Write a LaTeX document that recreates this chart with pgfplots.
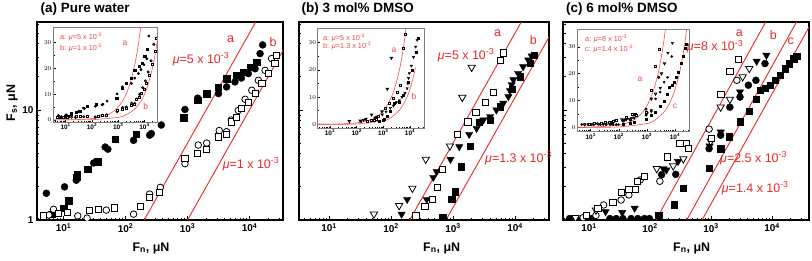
\documentclass[border=0pt]{standalone}
\usepackage{fontspec}
\setmainfont{Liberation Sans}
\usepackage{pgfplots}
\pgfplotsset{compat=1.18}
\usepackage{pgfplotstable}
\definecolor{myred}{RGB}{232,40,40}

% ---------- panel (a) ----------
\pgfplotstableread{
x y
5.3 1.75
10.4 2.0
16.1 2.3
30.7 3.3
47 4.6
52 4.4
135 5.3
245 5.9
261 6.1
378 7.3
910 10.1
1460 12.8
3160 14.1
4270 16.2
5830 18
7400 19.5
9550 21.4
12300 23.7
14800 32.5
16300 39
}\tabAfc
\pgfplotstableread{
x y
6.5 1.13
7.9 1.15
10.1 1.28
12.1 1.5
16.5 2.6
16.3 2.45
24.5 2.9
35.5 3.4
68 5.4
149 6.0
870 8.5
1460 12.2
2040 14.1
3160 16.2
4270 19.3
6200 20.7
7940 22.1
10200 24.6
13100 27.3
}\tabAfs
\pgfplotstableread{
x y
5.8 1.11
6.9 1.25
17 1.09
24 1.04
49 1.23
135 1.13
245 1.72
364 1.98
910 3.25
1490 4.8
2040 5.0
3250 6.5
4270 6.35
5100 8.1
6600 9.9
8500 12.5
10900 15.1
13900 18.6
17800 22.9
22700 29.3
}\tabAoc
\pgfplotstableread{
x y
4.8 1.09
8.4 1.15
11.4 1.17
26 1.23
37 1.25
67 1.29
174 1.34
245 1.61
355 1.77
910 3.6
1460 4.0
2040 4.4
3160 5.7
4270 6.0
5100 7.8
6200 8.6
7400 10.3
9550 11.8
12300 14.1
15800 17.3
20000 21.4
25700 26.4
27500 31.4
}\tabAos

% ---------- panel (b) ----------
\pgfplotstableread{
x y
53 1.13
135 1.35
221 1.94
363 3.56
890 4.7
1410 13.0
2000 24.4
}\tabBot
\pgfplotstableread{
x y
148 1.13
182 1.54
376 1.54
480 2.44
545 2.75
910 3.56
1260 4.64
1820 6.0
2400 6.8
3080 8.1
3970 8.7
5000 10
6460 11.5
7800 13.2
8300 15
8800 17
9400 18.8
11200 21.5
13500 24.7
16300 28.5
18500 31
}\tabBft
\pgfplotstableread{
x y
680 1.06
950 1.54
1080 1.81
1340 3.05
1880 4.7
2630 7.7
3970 8.1
5750 10.7
8900 15.4
12100 20
17400 26.5
20400 31.6
}\tabBfs
\pgfplotstableread{
x y
252 1.09
352 1.32
466 1.55
567 1.97
680 2.89
1190 6.0
1740 7.8
2340 9.5
3320 11.7
4490 14.4
5750 28
6460 33
}\tabBos

% ---------- panel (c) ----------
\pgfplotstableread{
x y
4.8 1.03
6.2 1.03
11 1.03
22 1.03
28 1.03
36 1.03
49 1.03
63 1.03
81 1.03
98 1.03
155 2.58
264 2.6
930 4.45
1440 5.9
2040 10.6
2990 13.1
4100 16.8
5450 18.6
7670 26.4
}\tabCfc
\pgfplotstableread{
x y
18.7 1.19
35 1.17
56 1.28
166 2.93
186 2.85
288 3.4
950 4.7
1440 6.3
2990 14.6
5600 27.7
8100 31.4
}\tabCft
\pgfplotstableread{
x y
8 1.05
13 1.1
17.4 1.37
33.6 1.52
45 1.69
69 2.31
145 2.25
930 6.7
2650 18.6
}\tabCoc
\pgfplotstableread{
x y
6 1.05
13 1.23
129 2.93
240 3.1
352 3.6
990 5.2
1440 10.6
2040 12.5
3300 20
4240 23.8
}\tabCot
\pgfplotstableread{
x y
9 1.11
14 1.28
24.6 1.44
33.6 1.77
45 1.9
58 1.9
63 2.23
82 2.48
191 3.74
308 4.98
390 4.94
425 4.5
1000 5.5
1450 13.8
2040 22.5
2800 28.9
}\tabCos
\pgfplotstableread{
x y
139 1.11
247 1.38
352 1.95
930 2.97
1450 4.45
2000 5.7
2990 7.8
4200 9.7
5450 12.5
6350 15.1
7670 15.8
9300 16.8
11200 18.6
13500 20.7
16300 23.8
19100 26.4
22800 29.3
25300 30.8
}\tabCfs

\pgfplotsset{
 fcirc/.style={only marks, mark=*, mark size=#1, mark options={draw=black, fill=black}},
 fcirc/.default=3.5bp,
 fsq/.style={only marks, mark=square*, mark size=#1, mark options={draw=black, fill=black}},
 fsq/.default=3.2bp,
 ocirc/.style={only marks, mark=*, mark size=#1, mark options={draw=black, fill=white, line width=0.8bp}},
 ocirc/.default=3.3bp,
 osq/.style={only marks, mark=square*, mark size=#1, mark options={draw=black, fill=white, line width=0.8bp}},
 osq/.default=3.1bp,
 ftri/.style={only marks, mark=triangle*, mark size=#1, mark options={rotate=180, draw=black, fill=black}},
 ftri/.default=4.2bp,
 otri/.style={only marks, mark=triangle*, mark size=#1, mark options={rotate=180, draw=black, fill=white, line width=0.8bp}},
 otri/.default=4.2bp,
}
\pgfplotsset{
 mainax/.style={scale only axis, height=198bp,
   ymin=1, ymax=63,
   axis line style={line width=1.3bp}, tick align=inside,
   xtick pos=bottom, ytick pos=left,
   xtick={10,100,1000,10000},
   xticklabels={10\textsuperscript{1},10\textsuperscript{2},10\textsuperscript{3},10\textsuperscript{4}},
   minor xtick={4,5,6,7,8,9,20,30,40,50,60,70,80,90,200,300,400,500,600,700,800,900,2000,3000,4000,5000,6000,7000,8000,9000,20000,30000,40000},
   ytick={1,10}, minor ytick={2,3,4,5,6,7,8,9,20,30,40,50,60},
   major tick length=4bp, minor tick length=2.5bp,
   tick style={black, line width=0.8bp},
   ticklabel style={font=\bfseries\fontsize{10}{10}\selectfont},
   clip marker paths=true},
 insetax/.style={scale only axis,
   axis background/.style={fill=white},
   axis line style={gray, line width=0.8bp}, tick align=inside,
   xtick pos=bottom, ytick pos=left,
   xtick={10,100,1000,10000},
   xticklabels={10\textsuperscript{1},10\textsuperscript{2},10\textsuperscript{3},10\textsuperscript{4}},
   minor xtick={4,5,6,7,8,9,20,30,40,50,60,70,80,90,200,300,400,500,600,700,800,900,2000,3000,4000,5000,6000,7000,8000,9000,20000,30000},
   ytick={0,10,20,30}, minor y tick num=1,
   major tick length=2.5bp, minor tick length=1.5bp,
   tick style={black, line width=0.5bp},
   ticklabel style={font=\bfseries\fontsize{6.5}{6.5}\selectfont, inner sep=1.5pt},
   clip marker paths=true},
}

\begin{document}
\begin{tikzpicture}
\useasboundingbox (0,0) rectangle (812bp,-261bp);

% ================= panel (a) =================
\begin{loglogaxis}[mainax, anchor=north west, at={(37bp,-22bp)}, width=246bp, xmin=3.74, xmax=34700, yticklabels={1,10}]
\addplot[myred, line width=0.9bp] coordinates {(200,1) (12600,63)};
\addplot[myred, line width=0.9bp] coordinates {(1000,1) (63000,63)};
\addplot[fcirc] table {\tabAfc};
\addplot[fsq] table {\tabAfs};
\addplot[ocirc] table {\tabAoc};
\addplot[osq] table {\tabAos};
\end{loglogaxis}
\begin{semilogxaxis}[insetax, anchor=north west, at={(53bp,-27bp)}, width=104bp, height=95bp,
  xmin=3.3, xmax=30000, ymin=-0.8, ymax=36]
\addplot[myred!80, line width=0.6bp, smooth] coordinates {(3.3,0.0165) (10,0.05) (30,0.15) (100,0.5) (200,1) (400,2) (700,3.5) (1000,5) (1500,7.5) (2000,10) (2500,12.5) (3000,15) (3500,17.5) (4000,20) (4500,22.5) (5000,25) (5500,27.5) (6000,30) (6500,32.5) (7000,35) (7500,37.5)};
\addplot[myred!80, line width=0.6bp, smooth] coordinates {(3.3,0.0033) (10,0.01) (100,0.1) (1000,1) (2000,2) (4000,4) (6000,6) (8000,8) (10000,10) (13000,13) (16000,16) (20000,20) (25000,25) (30000,30)};
\addplot[fcirc=1.2bp] table {\tabAfc};
\addplot[fsq=1.1bp] table {\tabAfs};
\addplot[ocirc=1.1bp] table {\tabAoc};
\addplot[osq=1.0bp] table {\tabAos};
\end{semilogxaxis}

% ================= panel (b) =================
\begin{loglogaxis}[mainax, anchor=north west, at={(299bp,-22bp)}, width=250bp, xmin=3.28, xmax=35300, yticklabels={}]
\addplot[myred, line width=0.9bp] coordinates {(200,1) (12600,63)};
\addplot[myred, line width=0.9bp] coordinates {(769,1) (48460,63)};
\addplot[otri] table {\tabBot};
\addplot[ftri] table {\tabBft};
\addplot[fsq] table {\tabBfs};
\addplot[osq] table {\tabBos};
\end{loglogaxis}
\begin{semilogxaxis}[insetax, anchor=north west, at={(317.7bp,-28.3bp)}, width=106.3bp, height=99.7bp,
  xmin=3.46, xmax=33400, ymin=-1.36, ymax=35.3]
\addplot[myred!80, line width=0.6bp, smooth] coordinates {(3.46,0.0173) (10,0.05) (30,0.15) (100,0.5) (200,1) (400,2) (700,3.5) (1000,5) (1500,7.5) (2000,10) (2500,12.5) (3000,15) (3500,17.5) (4000,20) (4500,22.5) (5000,25) (5500,27.5) (6000,30) (6500,32.5) (7000,35) (7500,37.5)};
\addplot[myred!80, line width=0.6bp, smooth] coordinates {(3.46,0.0045) (10,0.013) (100,0.13) (1000,1.3) (2000,2.6) (4000,5.2) (6000,7.8) (8000,10.4) (10000,13) (12000,15.6) (14000,18.2) (16000,20.8)};
\addplot[otri=1.4bp] table {\tabBot};
\addplot[ftri=1.4bp] table {\tabBft};
\addplot[fsq=1.0bp] table {\tabBfs};
\addplot[osq=1.0bp] table {\tabBos};
\end{semilogxaxis}

% ================= panel (c) =================
\begin{loglogaxis}[mainax, anchor=north west, at={(563bp,-22bp)}, width=246bp, xmin=3.75, xmax=40400, yticklabels={}]
\addplot[myred, line width=0.9bp] coordinates {(125,1) (7875,63)};
\addplot[myred, line width=0.9bp] coordinates {(400,1) (25200,63)};
\addplot[myred, line width=0.9bp] coordinates {(714,1) (45000,63)};
\addplot[fcirc] table {\tabCfc};
\addplot[ftri] table {\tabCft};
\addplot[ocirc] table {\tabCoc};
\addplot[otri] table {\tabCot};
\addplot[osq] table {\tabCos};
\addplot[fsq] table {\tabCfs};
\end{loglogaxis}
\begin{semilogxaxis}[insetax, anchor=north west, at={(577.3bp,-29.3bp)}, width=111.7bp, height=102.4bp,
  xmin=3.34, xmax=31600, ymin=-1.64, ymax=36.5]
\addplot[myred!80, line width=0.6bp, smooth] coordinates {(3.34,0.027) (10,0.08) (100,0.8) (300,2.4) (600,4.8) (1000,8) (1500,12) (2000,16) (2500,20) (3000,24) (3500,28) (4000,32) (4500,36) (5000,40)};
\addplot[myred!80, line width=0.6bp, smooth] coordinates {(3.34,0.0047) (10,0.014) (100,0.14) (1000,1.4) (2000,2.8) (4000,5.6) (6000,8.4) (8000,11.2) (10000,14) (12500,17.5) (15000,21) (17500,24.5) (20000,28) (22500,31.5) (25000,35) (27500,38.5)};
\addplot[fcirc=1.1bp] table {\tabCfc};
\addplot[ftri=1.4bp] table {\tabCft};
\addplot[ocirc=1.1bp] table {\tabCoc};
\addplot[otri=1.4bp] table {\tabCot};
\addplot[osq=1.0bp] table {\tabCos};
\addplot[fsq=1.0bp] table {\tabCfs};
\end{semilogxaxis}

% ================= texts =================
\begin{scope}[every node/.style={inner sep=0pt}]
\node[anchor=west, font=\bfseries\fontsize{13.5}{13.5}\selectfont] at (40.5bp,-9.5bp) {(a) Pure water};
\node[anchor=west, font=\bfseries\fontsize{13.5}{13.5}\selectfont] at (301.5bp,-9.5bp) {(b) 3 mol\% DMSO};
\node[anchor=west, font=\bfseries\fontsize{13.5}{13.5}\selectfont] at (566bp,-9.5bp) {(c) 6 mol\% DMSO};

\node[rotate=90, font=\bfseries\fontsize{12.5}{12.5}\selectfont] at (12bp,-103bp) {F\textsubscript{s}, μN};
\node[font=\bfseries\fontsize{12.5}{12.5}\selectfont] at (151bp,-248bp) {F\textsubscript{n}, μN};
\node[font=\bfseries\fontsize{12.5}{12.5}\selectfont] at (441.7bp,-248bp) {F\textsubscript{n}, μN};
\node[font=\bfseries\fontsize{12.5}{12.5}\selectfont] at (691.7bp,-248bp) {F\textsubscript{n}, μN};

\begin{scope}[every node/.append style={text=myred, font=\fontsize{12.5}{12.5}\selectfont}]
\node at (230.7bp,-39bp) {a};
\node at (273bp,-42bp) {b};
\node[anchor=west] at (172.7bp,-59bp) {\textit{μ}=5 x 10\textsuperscript{-3}};
\node[anchor=west] at (222.7bp,-164bp) {\textit{μ}=1 x 10\textsuperscript{-3}};

\node at (497.7bp,-33.3bp) {a};
\node at (533.3bp,-40bp) {b};
\node[anchor=west] at (437.7bp,-55bp) {\textit{μ}=5 x 10\textsuperscript{-3}};
\node[anchor=west] at (485bp,-158.3bp) {\textit{μ}=1.3 x 10\textsuperscript{-3}};

\node at (739.3bp,-33.3bp) {a};
\node at (773.3bp,-35bp) {b};
\node at (790.7bp,-41.7bp) {c};
\node[anchor=west] at (686.7bp,-46.7bp) {\textit{μ}=8 x 10\textsuperscript{-3}};
\node[anchor=west] at (720bp,-158.3bp) {\textit{μ}=2.5 x 10\textsuperscript{-3}};
\node[anchor=west] at (721.7bp,-188bp) {\textit{μ}=1.4 x 10\textsuperscript{-3}};
\end{scope}

\begin{scope}[every node/.append style={text=myred!85, font=\fontsize{7.3}{7.3}\selectfont}]
\node[anchor=west] at (60bp,-37bp) {a: \textit{μ}=5 x 10\textsuperscript{-3}};
\node[anchor=west] at (60bp,-48bp) {b: \textit{μ}=1 x 10\textsuperscript{-3}};
\node[anchor=west] at (323bp,-37.7bp) {a: \textit{μ}=5 x 10\textsuperscript{-3}};
\node[anchor=west] at (323bp,-45.7bp) {b: \textit{μ}=1.3 x 10\textsuperscript{-3}};
\node[anchor=west] at (585bp,-39.3bp) {a: \textit{μ}=8 x 10\textsuperscript{-3}};
\node[anchor=west] at (585bp,-49.3bp) {c: \textit{μ}=1.4 x 10\textsuperscript{-3}};
\end{scope}
\begin{scope}[every node/.append style={text=myred!85, font=\fontsize{8.5}{8.5}\selectfont}]
\node at (125bp,-43.3bp) {a};
\node at (145.7bp,-106bp) {b};
\node at (394bp,-50.7bp) {a};
\node at (414bp,-96.7bp) {b};
\node at (640bp,-79bp) {a};
\node at (675bp,-106bp) {c};
\end{scope}
\end{scope}
\end{tikzpicture}
\end{document}
